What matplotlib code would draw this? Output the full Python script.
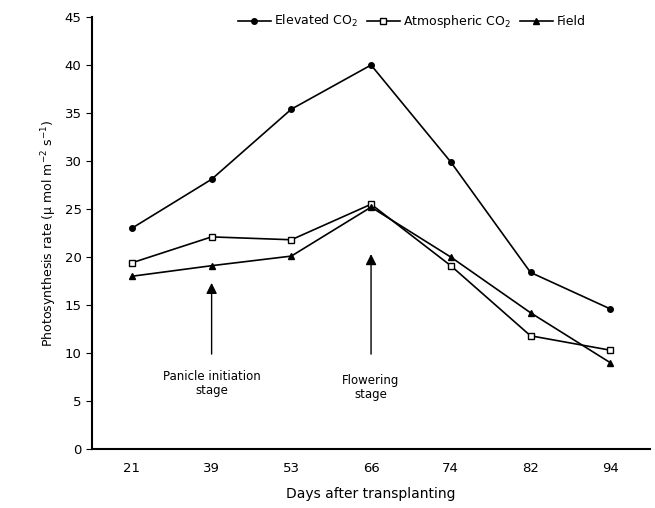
import matplotlib
matplotlib.use("Agg")
import matplotlib.pyplot as plt

days = ["21", "39", "53", "66", "74", "82", "94"]
elevated = [23.0, 28.1, 35.4, 40.0, 29.9, 18.4, 14.6]
atmospheric = [19.4, 22.1, 21.8, 25.5, 19.1, 11.8, 10.3]
field = [18.0, 19.1, 20.1, 25.2, 20.0, 14.2, 9.0]
yticks = [0, 5, 10, 15, 20, 25, 30, 35, 40, 45]

fig = plt.figure(figsize=(6.55, 5.08), dpi=100)
ax = fig.add_axes([0.1405, 0.116, 0.852, 0.8505])
x = list(range(len(days)))

ax.plot(x, elevated, color="black", lw=1.2, marker="o", ms=4, mfc="black", label="Elevated CO$_2$")
ax.plot(x, atmospheric, color="black", lw=1.2, marker="s", ms=5, mfc="white", mew=1, label="Atmospheric CO$_2$")
ax.plot(x, field, color="black", lw=1.2, marker="^", ms=5, mfc="black", label="Field")

ax.set_xlim(-0.5, 6.5)
ax.set_ylim(0, 45)
ax.set_xticks(x)
ax.set_xticklabels(days)
ax.set_yticks(yticks)
ax.tick_params(axis="x", length=0, pad=9, labelsize=9.5)
ax.tick_params(axis="y", length=4, direction="out", labelsize=9.5)
ax.spines["top"].set_visible(False)
ax.spines["right"].set_visible(False)
ax.spines["left"].set_linewidth(1.5)
ax.spines["bottom"].set_linewidth(1.5)

ax.set_xlabel("Days after transplanting", fontsize=10, labelpad=9)
ax.set_ylabel("Photosynthesis rate (µ mol m$^{-2}$ s$^{-1}$)", fontsize=9)

# stage arrows
ax.annotate("", xy=(1, 17.6), xytext=(1, 9.6),
            arrowprops=dict(arrowstyle="-|>", color="black", lw=1, mutation_scale=16))
ax.annotate("", xy=(3, 20.6), xytext=(3, 9.6),
            arrowprops=dict(arrowstyle="-|>", color="black", lw=1, mutation_scale=16))
ax.text(1, 6.8, "Panicle initiation\nstage", ha="center", va="center", fontsize=8.5, linespacing=1.1)
ax.text(3, 6.4, "Flowering\nstage", ha="center", va="center", fontsize=8.5, linespacing=1.1)

leg = ax.legend(loc="upper center", bbox_to_anchor=(0.573, 1.035), ncol=3, frameon=False,
                fontsize=9, handlelength=2.6, handletextpad=0.3, columnspacing=0.7)

fig.savefig("out.png", dpi=100)
